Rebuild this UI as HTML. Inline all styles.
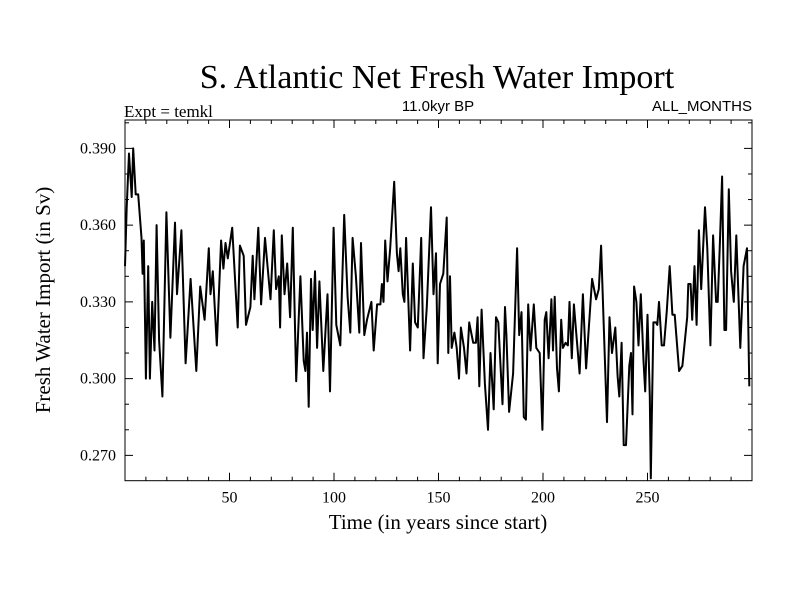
<!DOCTYPE html>
<html><head><meta charset="utf-8">
<style>
html,body{margin:0;padding:0;background:#fff;}
svg{display:block;}
text{font-family:"Liberation Serif",serif;fill:#000;}
</style></head>
<body>
<svg id="chart" width="800" height="600" xmlns="http://www.w3.org/2000/svg">
<text x="437" y="88" font-size="34" text-anchor="middle">S. Atlantic Net Fresh Water Import</text>
<text x="124" y="117" font-size="17">Expt = temkl</text>
<text x="438" y="111" font-size="15" text-anchor="middle" style="font-family:'Liberation Sans',sans-serif">11.0kyr BP</text>
<text x="752" y="111" font-size="15" text-anchor="end" style="font-family:'Liberation Sans',sans-serif">ALL_MONTHS</text>
<text transform="translate(50,300) rotate(-90)" font-size="21" text-anchor="middle">Fresh Water Import (in Sv)</text>
<text x="438" y="529" font-size="21" text-anchor="middle">Time (in years since start)</text>
<g id="ticks"></g>
<path id="series" fill="none" stroke="#000" stroke-width="2" stroke-linejoin="round"></path>
<rect x="125" y="120" width="627" height="360.7" fill="none" stroke="#000" stroke-width="1"></rect>
</svg>
<script>
const years = [0,0.8,1.9,3.2,3.9,5.1,6.3,7.9,8.4,9.0,10.0,11.1,11.9,13.0,14.1,15.1,16.3,17.9,19.8,21.7,23.9,24.9,27.0,29.0,31.4,34.1,36.0,38.1,40.1,40.9,42.0,43.9,46.0,47.1,48.1,49.2,51.3,53.9,55.0,56.8,
57.9,60.0,61.1,61.9,63.8,65.1,67.0,69.6,71.2,72.3,73.6,74.2,75.0,76.3,77.6,79.0,80.3,81.9,83.9,85.5,86.3,87.1,87.9,89.0,89.8,90.9,91.9,93.0,94.9,96.9,98.1,99.8,101.1,103.0,104.9,106.5,107.8,108.9,110.5,112.1,112.9,114.5,115.8,
117.9,119.0,120.6,122.2,122.9,123.7,124.5,125.6,126.9,128.8,130.1,130.9,131.7,132.9,133.7,134.5,136.4,137.7,138.8,140.1,141.7,142.8,144.4,146.4,147.6,148.8,149.6,150.7,152.3,153.9,154.7,155.5,156.3,157.6,158.7,159.8,160.7,162.2,163.4,164.7,166.6,167.9,168.7,169.5,170.6,172.2,173.7,174.9,
176.4,177.5,178.6,180.6,181.8,182.5,183.8,185.7,187.6,188.6,189.7,190.8,191.8,192.9,194.0,195.6,196.8,198.4,199.7,200.8,201.6,202.7,204.0,204.8,205.6,206.7,207.6,208.7,209.5,210.8,211.9,212.7,213.8,214.8,215.9,217.5,219.1,220.6,223.5,225.4,226.7,227.8,229.1,230.6,231.8,233.0,234.6,
235.7,236.5,237.6,238.6,239.7,241.3,242.1,242.8,243.6,244.7,245.7,246.8,248.1,248.9,250.0,251.1,251.6,252.8,254.0,254.7,255.5,256.8,257.9,259.2,260.6,261.9,263.0,265.1,266.7,269.0,269.5,270.6,271.4,272.5,273.5,274.6,275.7,277.5,278.6,280.1,281.4,282.8,283.6,284.6,285.7,286.8,287.6,288.9,290.0,291.3,292.5,294.4,296.0,297.6,298.7];
const values = [0.344,0.367,0.388,0.371,0.390,0.372,0.372,0.355,0.341,0.354,0.300,0.344,0.300,0.330,0.311,0.360,0.315,0.293,0.365,0.316,0.361,0.333,0.358,0.306,0.339,0.303,0.336,0.323,0.351,0.333,0.342,0.313,0.354,0.343,0.353,0.347,0.359,0.320,0.352,0.348,
0.321,0.328,0.348,0.331,0.359,0.329,0.355,0.331,0.358,0.335,0.340,0.320,0.356,0.333,0.345,0.324,0.359,0.299,0.340,0.307,0.303,0.318,0.289,0.339,0.319,0.342,0.312,0.338,0.303,0.333,0.295,0.359,0.321,0.313,0.364,0.332,0.318,0.355,0.340,0.318,0.353,0.317,0.323,
0.330,0.311,0.329,0.329,0.337,0.330,0.354,0.338,0.351,0.377,0.349,0.342,0.351,0.333,0.330,0.355,0.311,0.345,0.322,0.320,0.355,0.308,0.328,0.367,0.333,0.349,0.306,0.337,0.341,0.363,0.310,0.340,0.312,0.318,0.312,0.300,0.320,0.312,0.302,0.322,0.314,0.314,0.324,0.297,0.327,0.298,0.280,0.310,
0.288,0.324,0.322,0.290,0.328,0.317,0.287,0.302,0.351,0.317,0.326,0.285,0.284,0.329,0.311,0.329,0.312,0.310,0.280,0.323,0.326,0.308,0.331,0.311,0.332,0.304,0.295,0.323,0.312,0.314,0.313,0.330,0.308,0.329,0.318,0.302,0.333,0.304,0.339,0.331,0.335,0.352,0.320,0.283,0.324,0.310,0.320,
0.301,0.293,0.314,0.274,0.274,0.305,0.310,0.286,0.336,0.330,0.313,0.333,0.307,0.295,0.325,0.293,0.261,0.322,0.322,0.321,0.330,0.313,0.313,0.326,0.344,0.325,0.325,0.303,0.305,0.324,0.337,0.337,0.323,0.344,0.321,0.358,0.335,0.367,0.351,0.313,0.356,0.330,0.330,0.352,0.379,0.319,0.319,0.374,0.342,0.330,0.356,0.312,0.344,0.351,0.297];
const yTicks = [0.270,0.300,0.330,0.360,0.390];
const yTickLabels = ["0.270","0.300","0.330","0.360","0.390"];
const xTicks = [50,100,150,200,250];
const xTickLabels = ["50","100","150","200","250"];

const X0=125,X1=752,Y0=480.7,Y1=120;
const xMin=0,xMax=300,yMin=0.2601,yMax=0.4011;
function xs(v){return X0+(v-xMin)/(xMax-xMin)*(X1-X0);}
function ys(v){return Y0-(v-yMin)/(yMax-yMin)*(Y0-Y1);}

const NS="http://www.w3.org/2000/svg";
let d="";
for(let i=0;i<values.length;i++){d+=(i?"L":"M")+xs(years[i]).toFixed(1)+","+ys(values[i]).toFixed(1);}
document.getElementById('series').setAttribute('d',d);

const g=document.getElementById('ticks');
function line(x1,y1,x2,y2,name){
  const l=document.createElementNS(NS,'line');
  l.setAttribute('x1',x1);l.setAttribute('y1',y1);l.setAttribute('x2',x2);l.setAttribute('y2',y2);
  l.setAttribute('stroke','#000');l.setAttribute('stroke-width','1');
  
  
  g.appendChild(l);
}
for(let v=10;v<300;v+=10){
  const major=xTicks.indexOf(v)>=0;const L=major?8:4;const x=xs(v);
  line(x,Y0,x,Y0-L,'x-tick');line(x,Y1,x,Y1+L,'x-tick-top');
}
for(let k=27;k<=40;k++){
  const v=k/100;const major=yTicks.some(t=>Math.abs(t-v)<1e-9);const L=major?8:4;const y=ys(v);
  if(y<Y1||y>Y0)continue;
  line(X0,y,X0+L,y,'y-tick');line(X1,y,X1-L,y,'y-tick-right');
}
xTicks.forEach((v,i)=>{
  const t=document.createElementNS(NS,'text');
  t.setAttribute('x',xs(v));t.setAttribute('y',Y0+22);t.setAttribute('font-size','16');t.setAttribute('text-anchor','middle');
  t.textContent=xTickLabels[i];
  
  
  g.appendChild(t);
});
yTicks.forEach((v,i)=>{
  const t=document.createElementNS(NS,'text');
  t.setAttribute('x',X0-9);t.setAttribute('y',ys(v)+5);t.setAttribute('font-size','16');t.setAttribute('text-anchor','end');
  t.textContent=yTickLabels[i];
  
  
  g.appendChild(t);
});
</script>
</body></html>
